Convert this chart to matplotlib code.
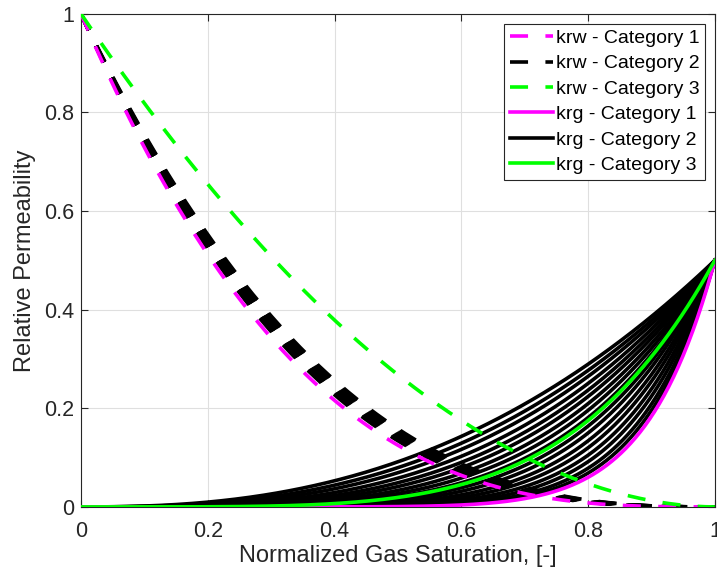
import numpy as np
import matplotlib
matplotlib.use("Agg")
import matplotlib.pyplot as plt
from matplotlib.ticker import FormatStrFormatter

plt.rcParams['font.family'] = ['Liberation Sans', 'DejaVu Sans']
plt.rcParams['lines.scale_dashes'] = False

# Corey-type exponents and end points
krw_end = 1.0
krg_end = 0.5
krw_n_cat1 = [3.0]
krw_n_cat2 = [2.66, 2.69, 2.72, 2.75, 2.78, 2.8, 2.82, 2.84, 2.86, 2.88, 2.9]
krw_n_cat3 = [1.9]
krg_m_cat1 = [9.5]
krg_m_cat2 = [2.45, 2.65, 2.85, 3.1, 3.35, 3.6, 3.9, 4.2, 4.55, 5.0, 5.4,
              5.9, 6.4, 7.0, 7.6, 8.3, 8.9]
krg_m_cat3 = [4.7]

colors = ['#ff00ff', '#000000', '#00ff00']
labels = ['Category 1', 'Category 2', 'Category 3']
layer = [3, 2, 4]

s = np.linspace(0, 1, 400)

fig = plt.figure(figsize=(7.17, 5.78), dpi=100)
ax = fig.add_axes([0.113, 0.123, 0.884, 0.853])

lw = 2.6
dash = (13, 12.5)
krw_sets = [krw_n_cat1, krw_n_cat2, krw_n_cat3]
krg_sets = [krg_m_cat1, krg_m_cat2, krg_m_cat3]
krw_handles = []
krg_handles = []
for i in range(3):
    for j, n in enumerate(krw_sets[i]):
        h, = ax.plot(s, krw_end * (1 - s) ** n, color=colors[i], lw=lw,
                     linestyle='--', dashes=dash, zorder=layer[i])
        if j == 0:
            krw_handles.append(h)
    for j, m in enumerate(krg_sets[i]):
        h, = ax.plot(s, krg_end * s ** m, color=colors[i], lw=lw, zorder=layer[i])
        if j == 0:
            krg_handles.append(h)

ax.set_xlim(0, 1)
ax.set_ylim(0, 1)
ticks = [0, 0.2, 0.4, 0.6, 0.8, 1]
ax.set_xticks(ticks)
ax.set_yticks(ticks)
ax.xaxis.set_major_formatter(FormatStrFormatter('%g'))
ax.yaxis.set_major_formatter(FormatStrFormatter('%g'))
ax.tick_params(direction='in', top=True, right=True, length=5, width=0.8,
               labelsize=15.5, colors='#262626')
ax.tick_params(axis='x', pad=10)
ax.tick_params(axis='y', pad=5)
for sp in ax.spines.values():
    sp.set_color('#262626')
    sp.set_linewidth(0.8)
ax.grid(True, color='#dfdfdf', lw=0.8)
ax.set_axisbelow(True)

ax.set_xlabel('Normalized Gas Saturation, [-]', fontsize=17, color='#262626',
              labelpad=2)
ax.set_ylabel('Relative Permeability', fontsize=17, color='#262626',
              labelpad=6)

leg_labels = ['krw - ' + l for l in labels] + ['krg - ' + l for l in labels]
leg = ax.legend(krw_handles + krg_handles, leg_labels, loc='upper right',
                fontsize=14, fancybox=False, framealpha=1, edgecolor='#262626',
                handlelength=2.2, handletextpad=0.15, labelspacing=0.4,
                borderpad=0.3, borderaxespad=0.5)
leg.get_frame().set_linewidth(0.8)
leg.set_zorder(10)

fig.savefig('out.png', dpi=100)
